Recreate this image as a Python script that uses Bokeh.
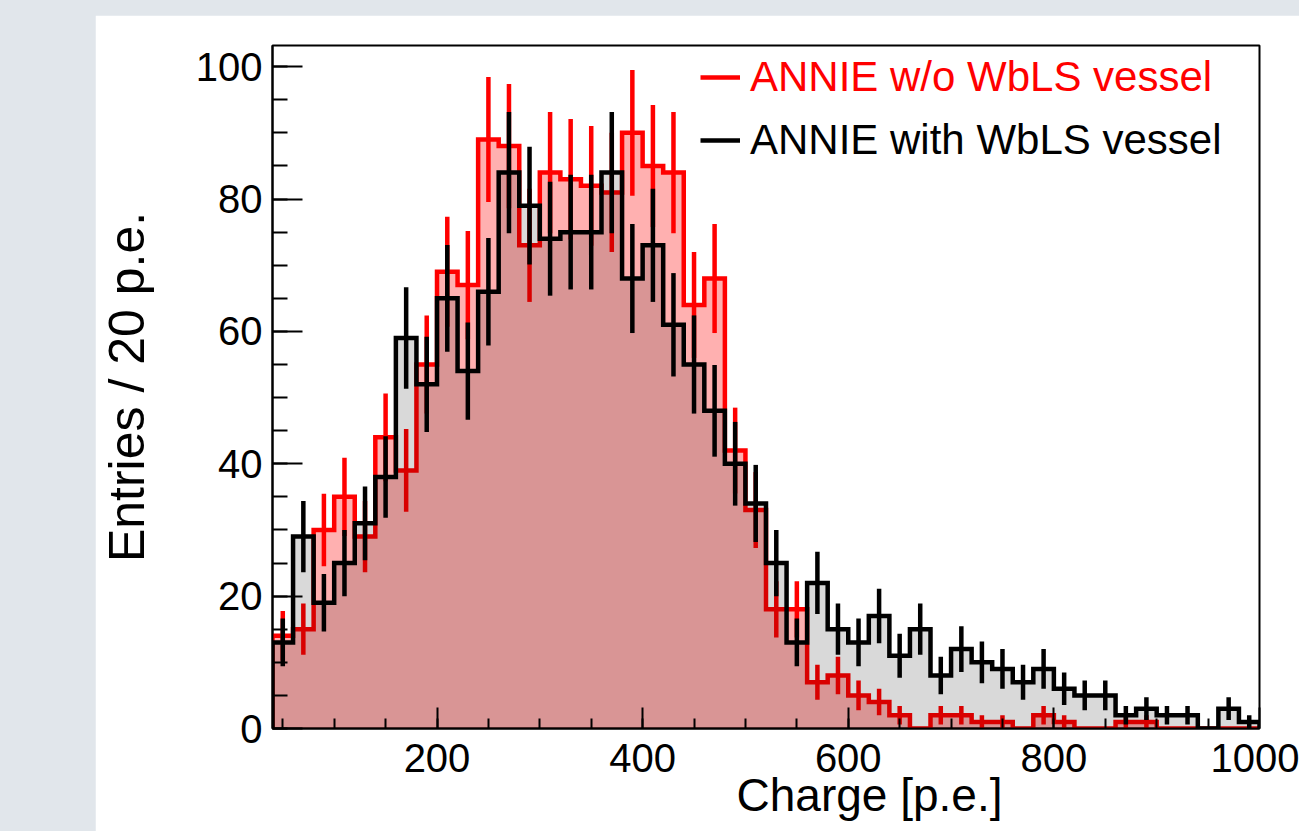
import numpy as np
from bokeh.plotting import figure
from bokeh.models import FixedTicker, Legend, LegendItem, Title, Range1d
from bokeh.embed import file_html
from bokeh.resources import INLINE

# ---- data ----
bin_edges = list(range(40, 1001, 20))          # 48 bins of 20 p.e.
without_vessel = [14, 15, 30, 35, 29, 44, 39, 55, 69, 67, 89, 88, 73, 84, 83, 82,
                  81, 90, 85, 84, 64, 68, 42, 33, 18, 18, 7, 8, 5, 4, 2, 0,
                  2, 2, 1, 1, 0, 2, 1, 0, 0, 1, 1, 0, 0, 0, 0, 0]
with_vessel = [13, 29, 19, 25, 31, 38, 59, 52, 65, 54, 66, 84, 79, 74, 75, 75,
               84, 68, 73, 61, 55, 48, 40, 34, 25, 13, 22, 15, 13, 17, 11, 15,
               8, 12, 10, 9, 7, 9, 6, 5, 5, 2, 3, 2, 2, 0, 3, 1]
x_ticks = [200, 400, 600, 800, 1000]
y_ticks = [0, 20, 40, 60, 80, 100]
label_red = "ANNIE w/o WbLS vessel"
label_black = "ANNIE with WbLS vessel"
x_title = "Charge [p.e.]"
y_title = "Entries / 20 p.e."

FONT = "Liberation Sans"


def outline(edges, vals):
    e = np.asarray(edges, dtype=float)
    v = np.asarray(vals, dtype=float)
    xs = np.concatenate([[e[0]], np.repeat(e, 2)[1:-1], [e[-1]]])
    ys = np.concatenate([[0.0], np.repeat(v, 2), [0.0]])
    return xs, ys


def errbars(edges, vals):
    e = np.asarray(edges, dtype=float)
    v = np.asarray(vals, dtype=float)
    c = 0.5 * (e[:-1] + e[1:])
    m = v > 0
    s = np.sqrt(v[m])
    return c[m], v[m] - s, v[m] + s


p = figure(width=1204, height=816, output_backend="svg", toolbar_location=None,
           x_range=Range1d(40, 1000), y_range=Range1d(0, 103.2),
           min_border_left=177, min_border_right=40, min_border_top=30,
           min_border_bottom=103, margin=(15, 0, 0, 95))
p.background_fill_color = "white"
p.border_fill_color = "white"
p.outline_line_color = "black"
p.outline_line_width = 2
p.xgrid.visible = False
p.ygrid.visible = False

# red histogram (without vessel)
rx, ry = outline(bin_edges, without_vessel)
p.patch(rx, ry, fill_color="red", fill_alpha=0.31, line_alpha=0)
red_line = p.line(rx, ry, line_color="red", line_width=4.5, line_join="miter")
cx, lo, hi = errbars(bin_edges, without_vessel)
p.segment(cx, lo, cx, hi, line_color="red", line_width=4.5)

# black histogram (with vessel)
bx, by = outline(bin_edges, with_vessel)
p.patch(bx, by, fill_color="black", fill_alpha=0.15, line_alpha=0)
black_line = p.line(bx, by, line_color="black", line_width=4.5, line_join="miter")
cx, lo, hi = errbars(bin_edges, with_vessel)
p.segment(cx, lo, cx, hi, line_color="black", line_width=4.5)

# axes
p.xaxis.ticker = FixedTicker(ticks=x_ticks, minor_ticks=list(range(50, 1000, 50)))
p.yaxis.ticker = FixedTicker(ticks=y_ticks, minor_ticks=list(range(0, 101, 5)))
for ax in (p.xaxis[0], p.yaxis[0]):
    ax.axis_line_color = "black"
    ax.axis_line_width = 2
    ax.major_tick_line_color = "black"
    ax.minor_tick_line_color = "black"
    ax.major_tick_line_width = 2
    ax.minor_tick_line_width = 2
    ax.major_tick_out = 0
    ax.minor_tick_out = 0
    ax.major_label_text_font = FONT
    ax.major_label_text_font_size = "40px"
    ax.major_label_text_color = "black"
    ax.axis_label_text_font = FONT
    ax.axis_label_text_font_size = "50px"
    ax.axis_label_text_font_style = "normal"
    ax.axis_label_text_color = "black"
p.xaxis.major_tick_in = 21
p.xaxis.minor_tick_in = 10
p.yaxis.major_tick_in = 30
p.yaxis.minor_tick_in = 15
p.xaxis.major_label_standoff = 15
p.yaxis.major_label_standoff = 10
p.yaxis.axis_label = y_title
p.yaxis.axis_label_standoff = 38

xt = Title(text=x_title, align="left", offset=464, standoff=-16,
           text_font=FONT, text_font_size="46px", text_font_style="normal",
           text_color="black")
p.add_layout(xt, "below")

leg1 = Legend(items=[LegendItem(label=label_red, renderers=[red_line])],
              location=(428, 627), label_text_color="red")
leg2 = Legend(items=[LegendItem(label=label_black, renderers=[black_line])],
              location=(428, 564), label_text_color="black")
for lg in (leg1, leg2):
    lg.padding = 0
    lg.margin = 0
    lg.border_line_alpha = 0
    lg.background_fill_alpha = 0
    lg.glyph_width = 40
    lg.glyph_height = 40
    lg.label_standoff = 10
    lg.label_text_font = FONT
    lg.label_text_font_size = "42px"
    lg.label_text_baseline = "middle"
    p.add_layout(lg)

html = file_html(p, INLINE)
html = html.replace("</head>", "<style>html,body{margin:0;padding:0;background:#e1e6eb;}</style></head>", 1)
open("out.html", "w").write(html)
